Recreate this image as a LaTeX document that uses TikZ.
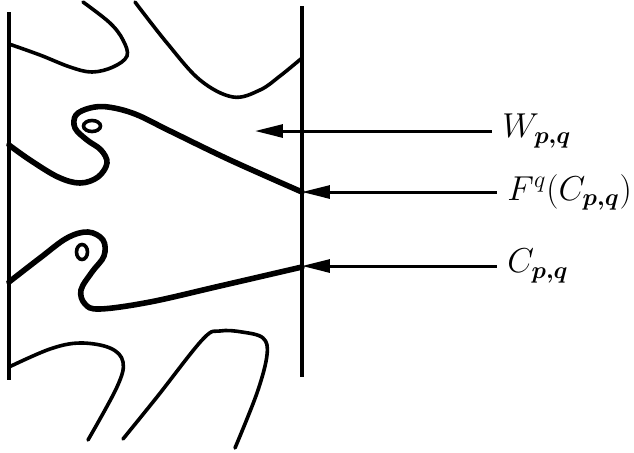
\documentclass[tikz,border=0pt]{standalone}
\usepackage{amsmath}
\usetikzlibrary{arrows.meta}
\tikzset{
  wall/.style={
    draw=black,
    line width=1.9pt
  },
  thincurve/.style={
    draw=black,
    line width=1.8pt,
    line cap=round
  },
  thickcurve/.style={
    draw=black,
    line width=2.8pt,
    line cap=round
  },
  pointer/.style={
    -{Triangle[length=14pt,width=6.5pt]},
    line width=1.5pt
  },
  lbl/.style={
    anchor=west,
    inner xsep=5pt,
    inner ysep=0pt,
    font=\fontsize{17pt}{20pt}\selectfont
  }
}

\begin{document}
\begin{tikzpicture}[x=0.5pt,y=-0.5pt]
  \useasboundingbox (0,0) rectangle (634,452);
  % the two walls
  \draw[wall] (9,12) -- (9,380);
  \draw[wall] (302,6) -- (302,377);
  % thin curves
  \draw[thincurve] plot[smooth,tension=0.6] coordinates
    {(9,44) (40,55) (70,67) (92,72) (113,67) (127,56) (123,40) (110,23) (83,2)};
  \draw[thincurve] plot[smooth,tension=0.6] coordinates
    {(135,2) (167,43) (200,80) (233,97) (260,90) (280,76) (302,58)};
  \draw[thincurve] plot[smooth,tension=0.6] coordinates
    {(9,367) (50,349) (80,343) (110,348) (123,362) (117,387) (88,440)};
  \draw[thincurve] plot[smooth,tension=0.6] coordinates
    {(123,439) (157,397) (203,339) (220,331) (242,332) (263,338) (267,355) (257,393) (235,448)};
  % the curve and its image
  \draw[thickcurve] plot[smooth,tension=0.6] coordinates
    {(9,145) (30,160) (58,177) (80,183) (98,177) (107,163) (101,150) (87,140)
     (75,128) (76,115) (90,108) (108,107) (135,114) (170,131) (230,160) (302,192)};
  \draw[line width=1.8pt] (92,126) ellipse [x radius=8.5, y radius=5.5];
  \draw[thickcurve] plot[smooth,tension=0.6] coordinates
    {(9,282) (40,258) (67,238) (88,232) (103,240) (104,256) (92,272) (81,290)
     (85,304) (100,309) (150,302) (220,286) (302,267)};
  \draw[line width=1.8pt] (82,252) ellipse [x radius=5.5, y radius=7.5];
  % labels
  \coordinate (wtip) at (255,131);
  \coordinate (ftip) at (302,192);
  \coordinate (ctip) at (302,266);
  \node[lbl] (wlabel) at (492,131) {$W_{\boldsymbol{p,q}}$};
  \node[lbl] (flabel) at (497,192) {$F^{q}(C_{\boldsymbol{p,q}})$};
  \node[lbl] (clabel) at (497,266) {$C_{\boldsymbol{p,q}}$};
  \draw[pointer] (wlabel) -- (wlabel -| wtip);
  \draw[pointer] (flabel) -- (flabel -| ftip);
  \draw[pointer] (clabel) -- (clabel -| ctip);
\end{tikzpicture}
\end{document}
